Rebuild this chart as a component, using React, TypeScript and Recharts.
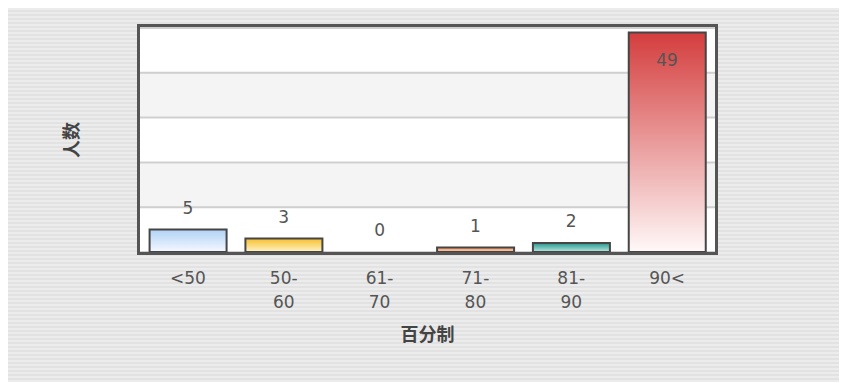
import { ComposedChart, Bar, Line, XAxis, YAxis, CartesianGrid, Cell, LabelList } from 'recharts';

const categories = ['<50', '50-60', '61-70', '71-80', '81-90', '90<'];
const counts = [5, 3, 0, 1, 2, 49];
const yTicks = [0, 10, 20, 30, 40, 50];

const data = categories.map((range, i) => ({ range, count: counts[i] }));

// vertical gradient per bar, dark at the top fading out at the base
const barFills = [
  { top: '#b1d2f5', bottom: '#f4f9ff' },
  { top: '#f6c02c', bottom: '#fff3c9' },
  { top: '#9cc3ee', bottom: '#ffffff' },
  { top: '#f2a070', bottom: '#fbcaa9' },
  { top: '#24978f', bottom: '#bfe8e3' },
  { top: '#d43d3d', bottom: '#fff8f8' },
];

const NUM_FONT = '"DejaVu Sans", Verdana, sans-serif';
const CJK_FONT = '"Noto Sans CJK SC", "Noto Sans", sans-serif';
const PLOT_TOP = 20;

const RangeTick = ({ x, y, payload }: any) => {
  const v: string = payload.value;
  const cut = v.indexOf('-');
  const lines = cut > 0 ? [v.slice(0, cut + 1), v.slice(cut + 1)] : [v];
  return (
    <text x={x} y={y} textAnchor="middle" fill="#555" fontSize={17} fontFamily={NUM_FONT}>
      {lines.map((l, i) => (
        <tspan key={i} x={x} dy={i === 0 ? 32 : 24}>
          {l}
        </tspan>
      ))}
    </text>
  );
};

const NoTick = () => <g />;

// value labels hang off the (invisible) line points so zero-height bars still get one
const ValueLabel = (props: any) => {
  const { x, y, value } = props;
  const above = y - 16;
  // tall bars get their number inside the top of the bar
  const ty = above - 14 < PLOT_TOP ? y + 34 : above;
  return (
    <text x={x} y={ty} textAnchor="middle" fill="#555" fontSize={17} fontFamily={NUM_FONT}>
      {value}
    </text>
  );
};

export default function App() {
  return (
    <div
      style={{
        position: 'relative',
        width: 839,
        height: 374,
        background: 'repeating-linear-gradient(to bottom, #ececec 0px, #ececec 2px, #e2e2e2 2px, #e2e2e2 4px)',
      }}
    >
      <ComposedChart
        width={839}
        height={374}
        data={data}
        margin={{ top: PLOT_TOP, right: 132, bottom: 70, left: 0 }}
        barCategoryGap="10%"
      >
        <defs>
          {barFills.map((f, i) => (
            <linearGradient key={i} id={`barFill${i}`} x1="0" y1="0" x2="0" y2="1">
              <stop offset="0%" stopColor={f.top} />
              <stop offset="100%" stopColor={f.bottom} />
            </linearGradient>
          ))}
        </defs>
        <CartesianGrid
          vertical={false}
          stroke="#cfcfcf"
          strokeWidth={2}
          fill="#ffffff"
          horizontalFill={['#ffffff', '#f4f4f4']}
          fillOpacity={1}
        />
        <XAxis
          dataKey="range"
          axisLine={false}
          tickLine={false}
          tickSize={0}
          tickMargin={0}
          height={60}
          interval={0}
          tick={<RangeTick />}
          label={{
            content: (p: any) => {
              const vb = p.viewBox;
              return (
                <text
                  x={vb.x + vb.width / 2}
                  y={vb.y + 89}
                  textAnchor="middle"
                  fill="#444"
                  fontSize={18}
                  fontWeight="bold"
                  fontFamily={CJK_FONT}
                >
                  百分制
                </text>
              );
            },
          }}
        />
        <YAxis
          domain={[0, 50]}
          ticks={yTicks}
          width={132}
          axisLine={false}
          tickLine={false}
          tick={<NoTick />}
          label={{
            content: (p: any) => {
              const vb = p.viewBox;
              const cx = vb.x + 62;
              const cy = vb.y + vb.height / 2;
              return (
                <text
                  x={cx}
                  y={cy}
                  transform={`rotate(-90, ${cx}, ${cy})`}
                  textAnchor="middle"
                  dominantBaseline="central"
                  fill="#444"
                  fontSize={18}
                  fontWeight="bold"
                  fontFamily={CJK_FONT}
                >
                  人数
                </text>
              );
            },
          }}
        />
        <Bar dataKey="count" stroke="#454545" strokeWidth={2} isAnimationActive={false}>
          {data.map((_, i) => (
            <Cell key={i} fill={`url(#barFill${i})`} />
          ))}
        </Bar>
        <Line
          dataKey="count"
          stroke="none"
          dot={false}
          activeDot={false}
          legendType="none"
          isAnimationActive={false}
        >
          <LabelList dataKey="count" content={<ValueLabel />} />
        </Line>
      </ComposedChart>
      <div
        style={{
          position: 'absolute',
          left: 129,
          top: 16,
          width: 581,
          height: 231,
          border: '3px solid #555',
          boxSizing: 'border-box',
          pointerEvents: 'none',
        }}
      />
    </div>
  );
}
